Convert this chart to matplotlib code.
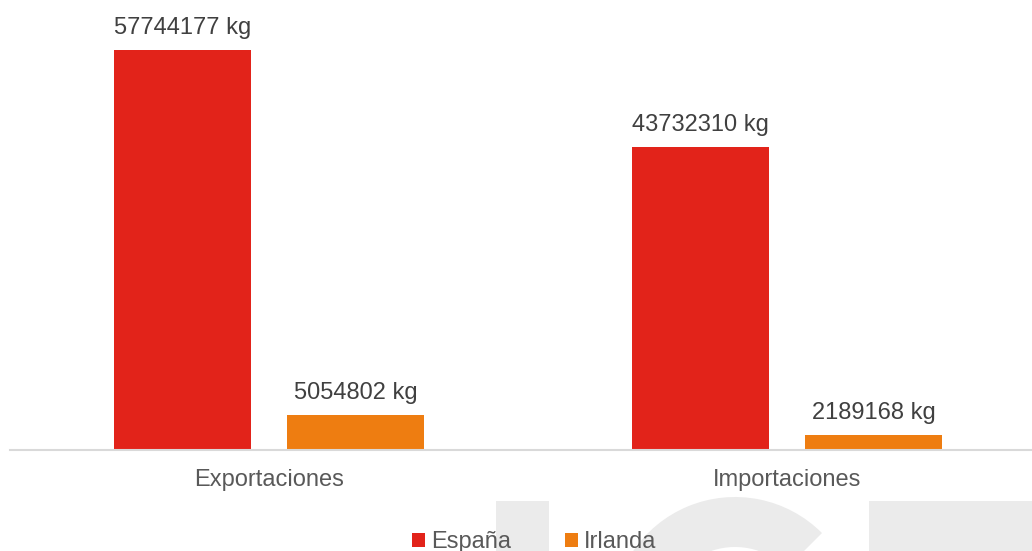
import numpy as np
import matplotlib.pyplot as plt
from matplotlib.patches import Rectangle, Wedge

# Data
categories = ["Exportaciones", "Importaciones"]
series_names = ["España", "Irlanda"]
espana = [57744177, 43732310]
irlanda = [5054802, 2189168]

COLORS = ["#E2231A", "#EE7D11"]
TEXT = "#404040"
FONT = "Liberation Sans"
W, H = 1032, 551

plt.rcParams['font.family'] = [FONT, 'DejaVu Sans']

fig = plt.figure(figsize=(W / 100, H / 100), dpi=100)

# faint watermark behind the chart (pixel coordinates)
bg = fig.add_axes([0, 0, 1, 1], zorder=-1)
bg.set_xlim(0, W)
bg.set_ylim(H, 0)
bg.axis("off")
wm = "#EBEBEB"
bg.add_patch(Rectangle((496, 501), 53, 60, color=wm, lw=0))
bg.add_patch(Wedge((735, 620), 123, 45, 315, width=50, color=wm, lw=0))
bg.add_patch(Rectangle((869, 501), 200, 60, color=wm, lw=0))

ax = fig.add_axes([10 / W, 101 / H, 1022 / W, 450 / H])
ax.patch.set_alpha(0)

x = np.arange(len(categories))
width = 0.266
offset = 0.167

bars = []
for vals, off, color, name in zip([espana, irlanda], [-offset, offset], COLORS, series_names):
    b = ax.bar(x + off, vals, width, color=color, label=name)
    bars.append(b)
    ax.bar_label(b, labels=[f"{v} kg" for v in vals], padding=8,
                 fontsize=17, color=TEXT)

ax.set_xlim(-0.5, 1.473)
ax.set_ylim(0, 65e6)

ax.set_xticks(x)
ax.set_xticklabels(categories, fontsize=17, color="#595959")
ax.tick_params(axis='x', length=0, pad=14)
ax.set_yticks([])

for s in ["top", "right", "left"]:
    ax.spines[s].set_visible(False)
ax.spines["bottom"].set_color("#D9D9D9")
ax.spines["bottom"].set_linewidth(1.5)

fig.legend(handles=bars, labels=series_names, loc="center",
           bbox_to_anchor=(534 / W, 1 - 542 / H), ncol=2, frameon=False,
           fontsize=17, handlelength=0.55, handleheight=0.55, handletextpad=0.25,
           columnspacing=2.3, labelcolor="#595959", borderpad=0)

plt.savefig("out.png", dpi=100)
